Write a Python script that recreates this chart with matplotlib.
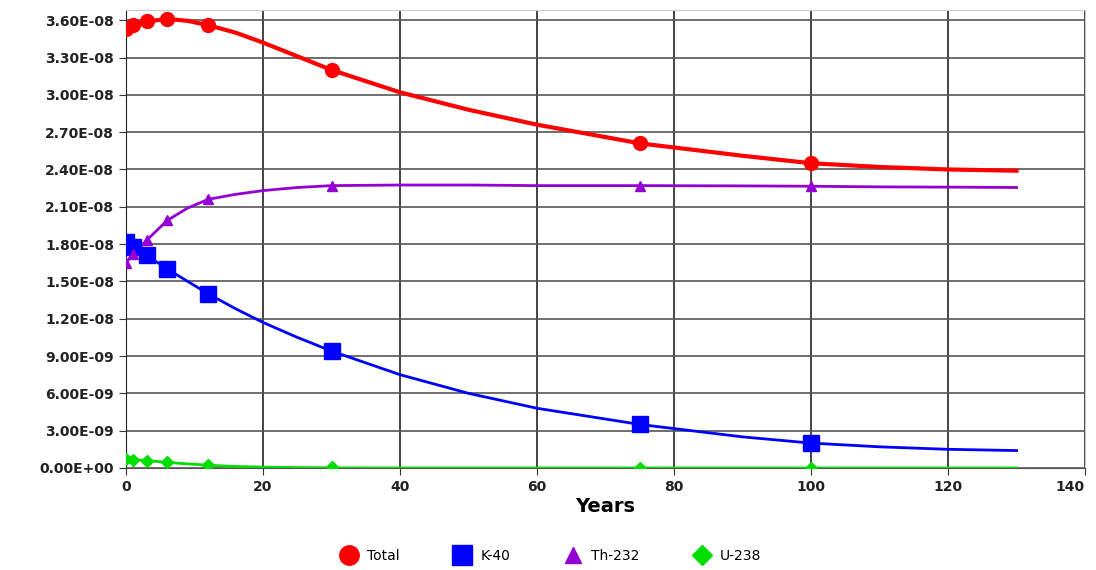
import numpy as np
import matplotlib
matplotlib.use("Agg")
import matplotlib.pyplot as plt
from matplotlib.ticker import FuncFormatter

# sampled years (markers)
years = [0, 1, 3, 6, 12, 30, 75, 100]
total = [3.53e-8, 3.56e-8, 3.59e-8, 3.61e-8, 3.56e-8, 3.20e-8, 2.61e-8, 2.45e-8]
k40 = [1.82e-8, 1.78e-8, 1.71e-8, 1.60e-8, 1.40e-8, 0.94e-8, 0.35e-8, 0.20e-8]
th232 = [1.65e-8, 1.72e-8, 1.83e-8, 1.99e-8, 2.16e-8, 2.27e-8, 2.27e-8, 2.27e-8]
u238 = [7.0e-10, 6.8e-10, 6.0e-10, 4.5e-10, 2.2e-10, 0.5e-10, 0.0, 0.0]

# smooth curves
curve_x = [0, 1, 3, 6, 9, 12, 16, 20, 25, 30, 40, 50, 60, 75, 90, 100, 110, 120, 130]
total_curve = [3.53e-8, 3.56e-8, 3.59e-8, 3.61e-8, 3.595e-8, 3.56e-8, 3.50e-8, 3.42e-8, 3.31e-8,
               3.20e-8, 3.02e-8, 2.88e-8, 2.76e-8, 2.61e-8, 2.51e-8, 2.45e-8, 2.42e-8, 2.40e-8, 2.39e-8]
k40_curve = [1.82e-8, 1.78e-8, 1.71e-8, 1.60e-8, 1.50e-8, 1.40e-8, 1.28e-8, 1.17e-8, 1.05e-8,
             0.94e-8, 0.75e-8, 0.60e-8, 0.48e-8, 0.35e-8, 0.25e-8, 0.20e-8, 0.17e-8, 0.15e-8, 0.14e-8]
th232_curve = [1.65e-8, 1.72e-8, 1.83e-8, 1.99e-8, 2.09e-8, 2.16e-8, 2.20e-8, 2.23e-8, 2.255e-8,
               2.27e-8, 2.275e-8, 2.275e-8, 2.27e-8, 2.27e-8, 2.268e-8, 2.265e-8, 2.26e-8, 2.258e-8, 2.255e-8]
u238_curve = [7.0e-10, 6.8e-10, 6.0e-10, 4.5e-10, 3.3e-10, 2.2e-10, 1.2e-10, 0.7e-10, 0.3e-10,
              0.1e-10, 0, 0, 0, 0, 0, 0, 0, 0, 0]

x_ticks = [0, 20, 40, 60, 80, 100, 120, 140]
y_ticks = np.arange(0, 3.61e-8, 3e-9)

fig = plt.figure(figsize=(10.96, 5.70), dpi=100)
ax = fig.add_axes([0.115, 0.179, 0.875, 0.803])

series = [
    ("Total", total, total_curve, "#FF0000", "o", 10, 3),
    ("K-40", k40, k40_curve, "#0000FF", "s", 11, 2),
    ("Th-232", th232, th232_curve, "#9400D3", "^", 7, 2),
    ("U-238", u238, u238_curve, "#00DD00", "D", 6, 2),
]
handles = []
for name, vals, curve, color, marker, ms, lw in series:
    ax.plot(curve_x, curve, color=color, linewidth=lw, zorder=3)
    ax.plot(years, vals, linestyle="none", marker=marker, markersize=ms,
            color=color, zorder=4)
    h, = ax.plot([], [], linestyle="none", marker=marker, markersize=ms + 4,
                 color=color, label=name)
    handles.append(h)

ax.set_xlim(0, 140)
ax.set_ylim(0, 3.68e-8)
ax.set_xticks(x_ticks)
ax.set_yticks(y_ticks)
ax.yaxis.set_major_formatter(FuncFormatter(lambda v, p: f"{v:.2E}"))

ax.grid(True, axis="y", color="#555555", linewidth=1.2)
ax.grid(True, axis="x", color="#222222", linewidth=1.2)
ax.set_axisbelow(True)
for side in ["top", "right"]:
    ax.spines[side].set_color("#cccccc")
ax.spines["left"].set_color("#222222")
ax.spines["bottom"].set_color("#555555")

ax.tick_params(axis="both", labelsize=10, length=5, color="#333333")
for lbl in ax.get_xticklabels() + ax.get_yticklabels():
    lbl.set_fontweight("bold")
    lbl.set_color("#222222")
# last x label sits inside the figure edge, like the original
ax.get_xticklabels()[-1].set_horizontalalignment("right")

ax.set_xlabel("Years", fontsize=14, fontweight="bold", labelpad=2)

fig.legend(handles=handles, loc="lower center", ncol=4, frameon=False,
           bbox_to_anchor=(0.5, -0.01), fontsize=10, handletextpad=0.3,
           columnspacing=3.5)

fig.savefig("out.png", dpi=100)
